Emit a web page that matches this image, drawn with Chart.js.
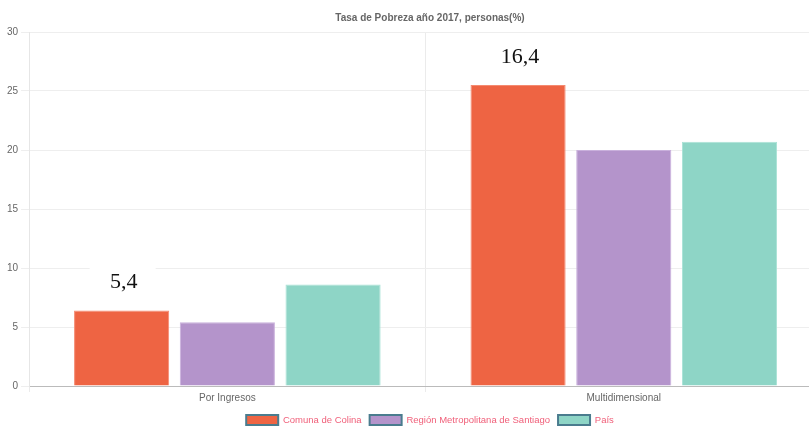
<!DOCTYPE html>
<html>
<head>
<meta charset="utf-8">
<script src="https://cdn.jsdelivr.net/npm/chart.js@4/dist/chart.umd.min.js"></script>
<style>
    html, body { margin: 0; padding: 0; background: #fff; overflow: hidden; }
    #wrap { width: 860px; height: 426px; position: relative; }
</style>
</head>
<body>
<div id="wrap"><canvas id="chart"></canvas></div>
<script>
const categories = ['Por Ingresos', 'Multidimensional'];
const seriesNames = ['Comuna de Colina', 'Región Metropolitana de Santiago', 'País'];
const colina = [6.4, 25.5];
const region = [5.4, 20.0];
const pais = [8.6, 20.7];
// texts pasted over the first series in the original
const overlayLabels = ['5,4', '16,4'];

const fills = ['#ee6443', '#b494cb', '#8ed5c6'];
const borders = ['#f58a70', '#c9b0dc', '#a9e2d6'];
const sans = '"Liberation Sans", Arial, sans-serif';

const overlayPlugin = {
    id: 'overlay',
    afterDatasetsDraw(chart) {
        const ctx = chart.ctx;
        const meta = chart.getDatasetMeta(0);
        ctx.save();
        ctx.font = '22px "Liberation Serif", "Times New Roman", serif';
        ctx.textAlign = 'center';
        ctx.textBaseline = 'middle';
        meta.data.forEach((bar, i) => {
            const y = bar.y - 28;
            ctx.fillStyle = '#ffffff';
            ctx.fillRect(bar.x - 32, y - 16, 66, 34);
            ctx.fillStyle = '#111111';
            ctx.fillText(overlayLabels[i], bar.x + 2, y);
        });
        ctx.restore();
    }
};

const datasets = [colina, region, pais].map((data, i) => ({
    label: seriesNames[i],
    data: data,
    backgroundColor: fills[i],
    borderColor: borders[i],
    borderWidth: 1,
    categoryPercentage: 0.8,
    barPercentage: 0.9,
    yAxisID: 'y'
}));

new Chart(document.getElementById('chart'), {
    type: 'bar',
    data: { labels: categories, datasets: datasets },
    plugins: [overlayPlugin],
    options: {
        responsive: true,
        maintainAspectRatio: false,
        animation: false,
        layout: { padding: { left: 4, right: 4, top: 4, bottom: -9 } },
        plugins: {
            title: {
                display: true,
                text: 'Tasa de Pobreza año 2017, personas(%)',
                color: '#666',
                font: { family: sans, size: 10, weight: 'bold' },
                padding: { top: 8, bottom: 8 }
            },
            legend: {
                position: 'bottom',
                labels: {
                    color: '#f0607a',
                    boxWidth: 32,
                    boxHeight: 10,
                    padding: 8,
                    font: { family: sans, size: 9.5 },
                    generateLabels(chart) {
                        return chart.data.datasets.map((ds, i) => ({
                            text: ds.label,
                            fillStyle: ds.backgroundColor,
                            strokeStyle: '#4a7c8e',
                            lineWidth: 2,
                            fontColor: '#f0607a',
                            hidden: false,
                            datasetIndex: i
                        }));
                    }
                }
            },
            tooltip: { enabled: false }
        },
        scales: {
            x: {
                grid: { color: '#ebebeb', offset: true, tickLength: 6 },
                border: { color: '#bbbbbb' },
                ticks: {
                    color: '#666',
                    padding: 0,
                    font: { family: sans, size: 10 }
                },
                afterFit(scale) { scale.height += 3; }
            },
            y: {
                min: 0,
                max: 30,
                ticks: {
                    stepSize: 5,
                    color: '#666',
                    font: { family: sans, size: 10 }
                },
                grid: { color: '#eeeeee' },
                border: { color: '#e6e6e6' }
            },
            // empty right axis so the chart area runs past the right edge like the original
            y2: {
                position: 'right',
                min: 0,
                max: 30,
                ticks: { display: false },
                grid: { display: false },
                border: { display: false },
                afterFit(scale) { scale.width = 34; }
            }
        }
    }
});
</script>
</body>
</html>
